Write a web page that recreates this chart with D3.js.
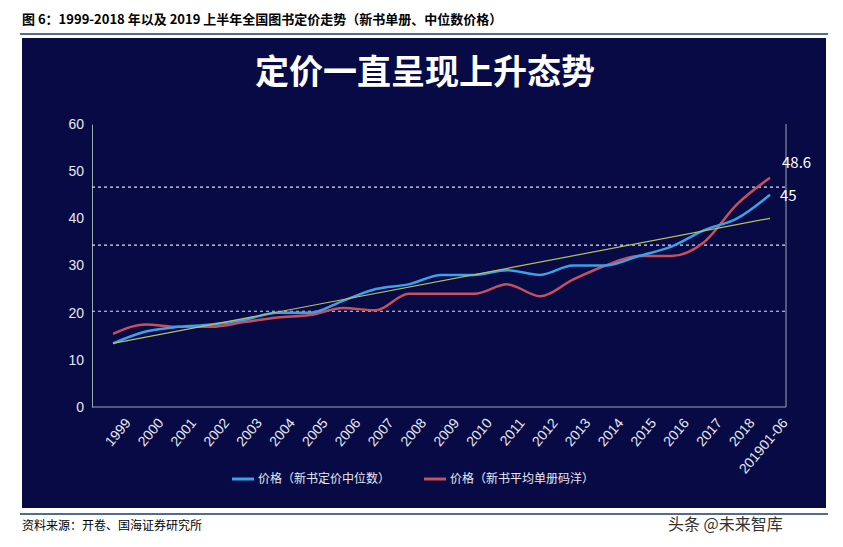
<!DOCTYPE html>
<html><head><meta charset="utf-8">
<script src="https://cdn.jsdelivr.net/npm/d3@7"></script>
<style>body{margin:0;background:#fff;font-family:"Noto Sans CJK SC","Liberation Sans",sans-serif;}</style>
</head><body><div id="chart"></div>
<script>
// data
const years = ["1999","2000","2001","2002","2003","2004","2005","2006","2007","2008","2009","2010","2011","2012","2013","2014","2015","2016","2017","2018","201901-06"];
const medianPrice = [13.5,16,17,17.5,18.5,20,20,22.5,25,26,28,28,29,28,30,30,32,34,37.5,40,45];
const avgPrice = [15.5,17.5,17,17,18,19,19.5,21,20.5,24,24,24,26,23.5,27,30,32,32,35,43,48.6];
const trend = [13.5,40];
const refLines = [46.6,34.3,20.3];
const yTicks = [0,10,20,30,40,50,60];

const W = 843, H = 547;
const svg = d3.select("#chart").append("svg").attr("width", W).attr("height", H);

svg.append("text").attr("x", 22).attr("y", 24).attr("font-size", 13).attr("font-weight", "bold")
    .text("图 6：1999-2018 年以及 2019 上半年全国图书定价走势（新书单册、中位数价格）");
svg.append("line").attr("x1", 20).attr("x2", 828).attr("y1", 34).attr("y2", 34).attr("stroke", "#1a3a6a").attr("stroke-width", 1.5);

// dark panel
svg.append("rect").attr("x", 22).attr("y", 38).attr("width", 804).attr("height", 470).attr("fill", "#070a45");
svg.append("text").attr("x", 425).attr("y", 84).attr("text-anchor", "middle").attr("font-size", 34)
    .attr("font-weight", "bold").attr("fill", "#fff").text("定价一直呈现上升态势");

let x = d3.scalePoint().domain(years).range([113, 770]);
let y = d3.scaleLinear().domain([0, 60]).range([407, 124]);

let axisY = svg.append("g").attr("transform", "translate(92,0)")
    .call(d3.axisLeft(y).tickValues(yTicks).tickSize(0).tickPadding(8));
axisY.select(".domain").attr("stroke", "#9aa");
axisY.selectAll("text").attr("fill", "#e8e8f0").attr("font-size", 14).attr("font-family", "Liberation Sans");

svg.append("line").attr("x1", 92).attr("x2", 786).attr("y1", 407).attr("y2", 407).attr("stroke", "#9aa");
svg.append("line").attr("x1", 786).attr("x2", 786).attr("y1", 124).attr("y2", 407).attr("stroke", "#9aa");

svg.selectAll(".ref").data(refLines).enter().append("line")
    .attr("x1", 92).attr("x2", 786).attr("y1", d => y(d)).attr("y2", d => y(d))
    .attr("stroke", "#dde").attr("stroke-dasharray", "3,3").attr("stroke-width", 1.2);

let axisX = svg.append("g").attr("transform", "translate(0,407)")
    .call(d3.axisBottom(x).tickSize(0));
axisX.select(".domain").remove();
axisX.selectAll("text").attr("fill", "#e8e8f0").attr("font-size", 14).attr("font-family", "Liberation Sans")
    .attr("text-anchor", "end").attr("transform", "translate(8,8) rotate(-50)");

let line = d3.line().x((d, i) => x(years[i])).y(d => y(d)).curve(d3.curveMonotoneX);
svg.append("path").datum(avgPrice).attr("d", line).attr("fill", "none").attr("stroke", "#c8505a").attr("stroke-width", 2.5);
svg.append("path").datum(medianPrice).attr("d", line).attr("fill", "none").attr("stroke", "#3ea0e8").attr("stroke-width", 2.5);
svg.append("line").attr("x1", x(years[0])).attr("y1", y(trend[0]))
    .attr("x2", x(years[years.length - 1])).attr("y2", y(trend[1])).attr("stroke", "#b8c060").attr("stroke-width", 1.2);

svg.append("text").attr("x", 782).attr("y", y(48.6) - 10).attr("fill", "#fff").attr("font-size", 15).text("48.6");
svg.append("text").attr("x", 780).attr("y", y(45) + 6).attr("fill", "#fff").attr("font-size", 15).text("45");

// legend
const legend = [["价格（新书定价中位数）", "#3ea0e8", 232], ["价格（新书平均单册码洋）", "#c8505a", 424]];
legend.forEach(l => {
    svg.append("line").attr("x1", l[2]).attr("x2", l[2] + 22).attr("y1", 479).attr("y2", 479).attr("stroke", l[1]).attr("stroke-width", 3);
    svg.append("text").attr("x", l[2] + 26).attr("y", 483).attr("fill", "#e8e8f0").attr("font-size", 12).text(l[0]);
});

svg.append("line").attr("x1", 20).attr("x2", 828).attr("y1", 514).attr("y2", 514).attr("stroke", "#1a3a6a").attr("stroke-width", 1.5);
svg.append("text").attr("x", 22).attr("y", 530).attr("font-size", 12).text("资料来源：开卷、国海证券研究所");
svg.append("text").attr("x", 668).attr("y", 530).attr("font-size", 16).attr("fill", "#333").text("头条 @未来智库");
</script></body></html>
